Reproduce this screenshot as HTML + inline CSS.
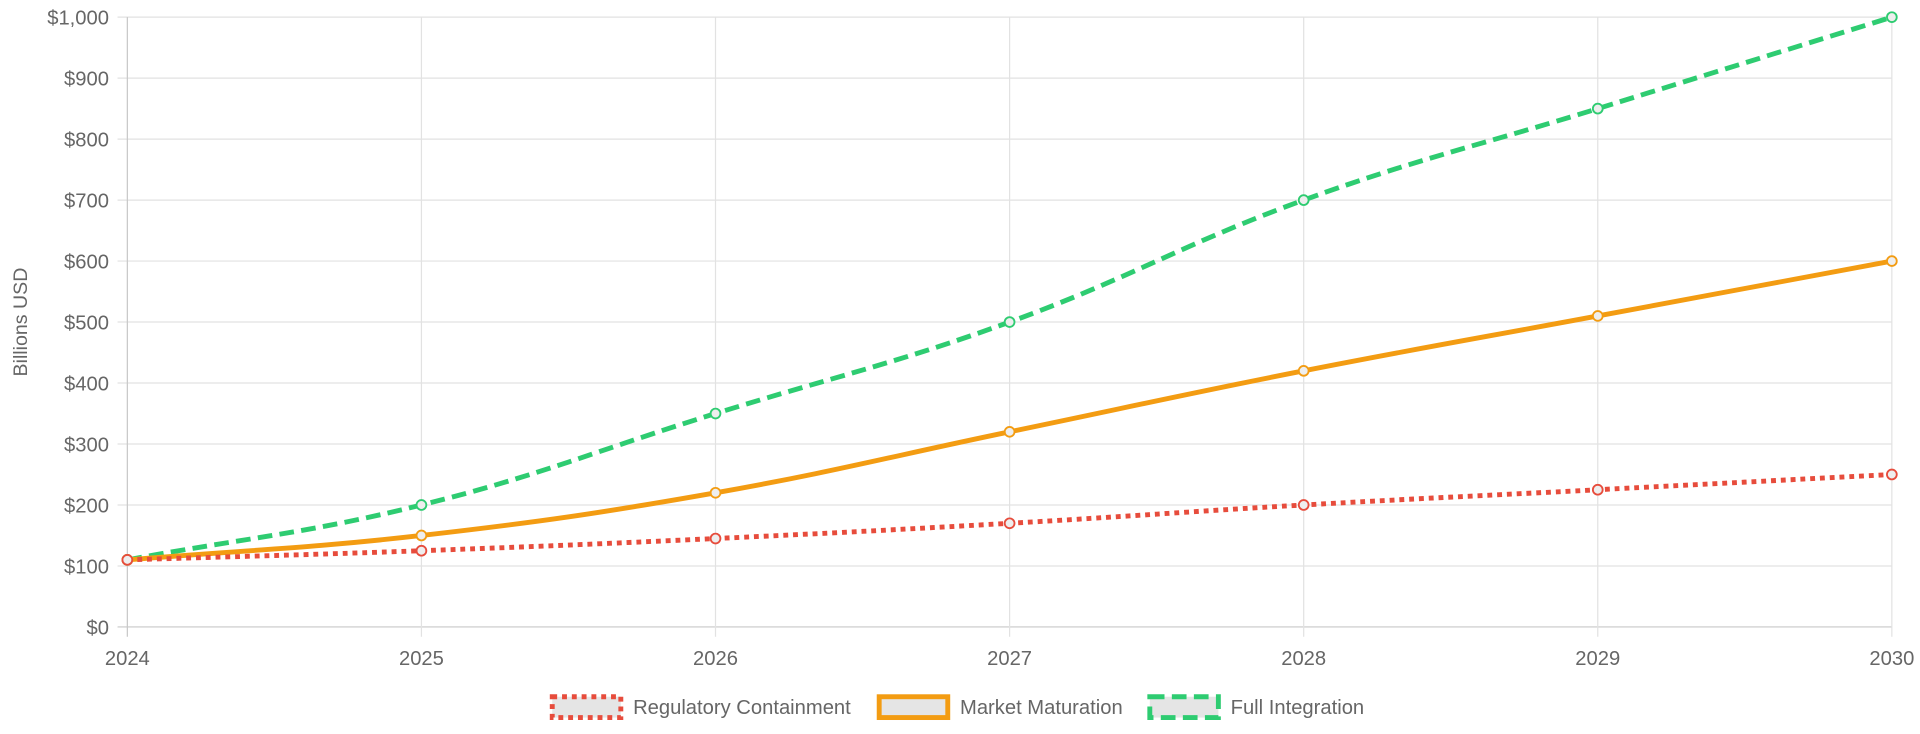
<!DOCTYPE html>
<html><head><meta charset="utf-8"><style>
html,body{margin:0;padding:0;background:#fff;width:1920px;height:734px;overflow:hidden}
text{font-family:"Liberation Sans",Arial,sans-serif;fill:#666}
</style></head><body>
<svg id="chart" width="1920" height="734" xmlns="http://www.w3.org/2000/svg">
<g transform="scale(1.2245)">
<g id="grid"></g>
<g id="axes"></g>
<text transform="translate(22,263) rotate(-90)" text-anchor="middle" font-size="16">Billions USD</text>
<g id="series"></g>
<g id="legend"></g>
</g>
</svg>
<script>
const years = ["2024","2025","2026","2027","2028","2029","2030"];
const regulatory = [110,125,145,170,200,225,250];
const maturation = [110,150,220,320,420,510,600];
const integration = [110,200,350,500,700,850,1000];
const yTicks = [0,100,200,300,400,500,600,700,800,900,1000];
const seriesNames = ["Regulatory Containment","Market Maturation","Full Integration"];

const NS="http://www.w3.org/2000/svg";
const X0=104,X1=1545,Y0=512,Y1=14;
const xs=i=>X0+(X1-X0)*i/(years.length-1);
const ys=v=>Y0-(Y0-Y1)*v/1000;
function mk(tag,attrs,parent){const e=document.createElementNS(NS,tag);for(const k in attrs)e.setAttribute(k,attrs[k]);parent.appendChild(e);return e;}
const grid=document.getElementById('grid'),axes=document.getElementById('axes'),ser=document.getElementById('series'),leg=document.getElementById('legend');

yTicks.forEach(v=>{
  const l=mk('line',{x1:X0-8,x2:X1,y1:ys(v),y2:ys(v),stroke:v===0?'#c8c8c8':'#e2e2e2','stroke-width':1},grid);
  
  
  const t=mk('text',{x:X0-15,y:ys(v)+6,'text-anchor':'end','font-size':16.5},axes);
  t.textContent='$'+v.toLocaleString('en-US');
  
  
});
years.forEach((y,i)=>{
  const l=mk('line',{x1:xs(i),x2:xs(i),y1:Y1,y2:Y0+8,stroke:i===0?'#c8c8c8':'#e2e2e2','stroke-width':1},grid);
  
  
  const t=mk('text',{x:xs(i),y:543,'text-anchor':'middle','font-size':16.5},axes);
  t.textContent=y;
  
  
});

function pathFor(vals){
  const p=vals.map((v,i)=>[xs(i),ys(v)]);const t=0.4;
  let d='M'+p[0][0]+','+p[0][1];
  const cps=p.map((pt,i)=>{
    const prev=p[Math.max(0,i-1)],next=p[Math.min(p.length-1,i+1)];
    const d01=Math.hypot(pt[0]-prev[0],pt[1]-prev[1]),d12=Math.hypot(next[0]-pt[0],next[1]-pt[1]);
    const s=d01+d12||1;const fa=t*d01/s,fb=t*d12/s;
    return {p:[pt[0]-fa*(next[0]-prev[0]),pt[1]-fa*(next[1]-prev[1])],n:[pt[0]+fb*(next[0]-prev[0]),pt[1]+fb*(next[1]-prev[1])]};
  });
  for(let i=1;i<p.length;i++){d+=' C'+cps[i-1].n[0]+','+cps[i-1].n[1]+' '+cps[i].p[0]+','+cps[i].p[1]+' '+p[i][0]+','+p[i][1];}
  return d;
}
const defs=[
 {vals:regulatory,color:'#e74c3c',dash:'4,4',name:'regulatory'},
 {vals:maturation,color:'#f39c12',dash:'',name:'maturation'},
 {vals:integration,color:'#2ecc71',dash:'12,6',name:'integration'}];
[2,1,0].forEach(k=>{
  const s=defs[k];
  const g=mk('g',{},ser);
  
  
  const pa=mk('path',{d:pathFor(s.vals),fill:'none',stroke:s.color,'stroke-width':4,'stroke-dasharray':s.dash},g);
  
  
  s.vals.forEach((v,i)=>{
    const c=mk('circle',{cx:xs(i),cy:ys(v),r:4,fill:'#eee',stroke:s.color,'stroke-width':1.5},g);
    
    
  });
});
const lx=[451,718,939];
defs.forEach((s,k)=>{
  const g=mk('g',{},leg);
  
  
  mk('rect',{x:lx[k],y:569,width:56,height:17,fill:'#e5e5e5',stroke:s.color,'stroke-width':4,'stroke-dasharray':s.dash},g);
  const t=mk('text',{x:lx[k]+66,y:583,'font-size':16.5},g);
  t.textContent=seriesNames[k];
});
</script>
</body></html>
